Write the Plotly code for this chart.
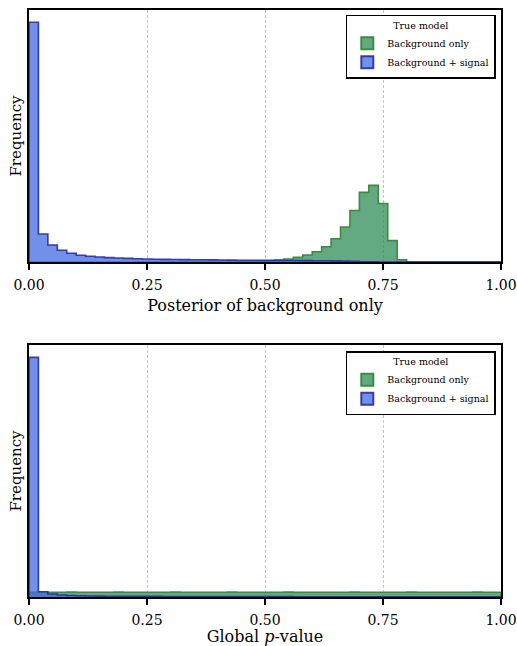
import numpy as np
import plotly.graph_objects as go

# ---------------- data ----------------
BIN_WIDTH = 0.02
bin_edges = np.round(np.arange(0, 1.0 + BIN_WIDTH / 2, BIN_WIDTH), 4)  # 51 edges, 50 bins

# Panel 1: posterior of background only (frequency, arbitrary units)
post_bg_only = [0, 0, 0, 0, 0, 0, 0, 0, 0, 0,
                0, 0, 0, 0, 0, 0, 0, 0, 0, 0,
                0, 0, 0.3, 0.5, 0.8, 1.2, 2.0, 3.0, 4.6, 7.0,
                10.2, 15.2, 23.2, 35.0, 51.5, 69.5, 76.5, 58.5, 21.3, 2.3,
                0, 0, 0, 0, 0, 0, 0, 0, 0, 0]
post_bg_signal = [239.5, 28.0, 17.0, 11.8, 8.8, 6.8, 5.8, 5.0, 4.4, 4.0,
                  3.6, 3.3, 3.0, 2.8, 2.6, 2.5, 2.4, 2.3, 2.2, 2.1,
                  2.0, 1.9, 1.8, 1.8, 1.7, 1.6, 1.6, 1.5, 1.5, 1.4,
                  1.3, 1.2, 1.1, 0.9, 0.6, 0.3, 0.1, 0, 0, 0,
                  0, 0, 0, 0, 0, 0, 0, 0, 0, 0]

# Panel 2: global p-value
pval_bg_only = [4.8, 4.8, 4.7, 4.8, 4.9, 4.8, 4.7, 4.8, 4.8, 4.9,
                4.8, 4.7, 4.8, 4.8, 4.8, 4.9, 4.8, 4.7, 4.8, 4.8,
                4.8, 4.9, 4.8, 4.8, 4.7, 4.8, 4.8, 4.9, 4.8, 4.8,
                4.7, 4.8, 4.8, 4.8, 4.9, 4.8, 4.8, 4.7, 4.8, 4.8,
                4.9, 4.8, 4.8, 4.8, 4.7, 4.8, 4.8, 4.9, 4.8, 4.8]
pval_bg_signal = [239.3, 5.2, 3.0, 2.0, 1.5, 1.2, 1.0, 0.9, 0.8, 0.7,
                  0.7, 0.6, 0.6, 0.6, 0.5, 0.5, 0.5, 0.5, 0.5, 0.4,
                  0.4, 0.4, 0.4, 0.4, 0.4, 0.4, 0.4, 0.4, 0.3, 0.3,
                  0.3, 0.3, 0.3, 0.3, 0.3, 0.3, 0.3, 0.3, 0.3, 0.3,
                  0.3, 0.3, 0.3, 0.3, 0.3, 0.3, 0.3, 0.3, 0.3, 0.3]

x_ticks = [0.0, 0.25, 0.5, 0.75, 1.0]
x_tick_labels = ["0.00", "0.25", "0.50", "0.75", "1.00"]
legend_title = "True model"
series_names = ["Background only", "Background + signal"]
x_titles = ["Posterior of background only", "Global <i>p</i>-value"]
y_title = "Frequency"

# ---------------- style ----------------
FONT = "DejaVu Serif"
GREEN_FILL = "rgba(46,139,87,0.74)"
GREEN_LINE = "rgb(58,140,62)"
BLUE_FILL = "rgba(65,105,225,0.74)"
BLUE_LINE = "rgba(35,45,165,0.9)"
Y_MAX = 251.7


def step_xy(counts):
    xs = [bin_edges[0]] + list(bin_edges[:-1]) + [bin_edges[-1]]
    ys = [0] + list(counts) + [0]
    return xs, ys


fig = go.Figure()

panels = [
    (post_bg_only, post_bg_signal, "x", "y", "legend"),
    (pval_bg_only, pval_bg_signal, "x2", "y2", "legend2"),
]

for (bg, sig, xa, ya, lg) in panels:
    for counts, fill, line in [(bg, GREEN_FILL, GREEN_LINE), (sig, BLUE_FILL, BLUE_LINE)]:
        xs, ys = step_xy(counts)
        fig.add_trace(go.Scatter(
            x=xs, y=ys, mode="lines", line=dict(shape="hv", color=line, width=1.6),
            fill="tozeroy", fillcolor=fill, xaxis=xa, yaxis=ya,
            showlegend=False, hoverinfo="skip"))
    # legend entries (patch style)
    for name, fill, line in [(series_names[0], GREEN_FILL, GREEN_LINE),
                             (series_names[1], BLUE_FILL, BLUE_LINE)]:
        fig.add_trace(go.Bar(
            x=[None], y=[None], name=name, marker=dict(color=fill, line=dict(color=line, width=1.6)),
            xaxis=xa, yaxis=ya, legend=lg, showlegend=True))

axis_common = dict(
    range=[0, 1], tickmode="array", tickvals=x_ticks, ticktext=x_tick_labels,
    ticks="outside", ticklen=6, tickwidth=1.8, tickcolor="black", ticklabelstandoff=3,
    showline=True, linecolor="black", linewidth=2, mirror=True,
    showgrid=True, gridcolor="#c4c4c4", griddash="3px,2px", gridwidth=1,
    zeroline=False, tickfont=dict(family=FONT, size=14, color="black"),
    automargin=False,
)
yaxis_common = dict(
    range=[0, Y_MAX], showticklabels=False, ticks="", showgrid=False, zeroline=False,
    showline=True, linecolor="black", linewidth=2, mirror=True, automargin=False,
    title=dict(text=y_title, font=dict(family=FONT, size=15, color="black"), standoff=2),
)

legend_common = dict(
    xanchor="right", yanchor="top", bgcolor="white", bordercolor="black", borderwidth=1.5,
    font=dict(family=FONT, size=9.5, color="black"),
    title=dict(text=legend_title, side="top center", font=dict(family=FONT, size=9.5, color="black")),
    itemsizing="constant", tracegroupgap=0,
)

fig.update_layout(
    width=517, height=646,
    margin=dict(l=29, r=16, t=10, b=49),
    paper_bgcolor="white", plot_bgcolor="white",
    barmode="overlay",
    showlegend=True,
    xaxis=dict(**axis_common, domain=[0, 1], anchor="y",
               title=dict(text=x_titles[0], font=dict(family=FONT, size=16, color="black"), standoff=8)),
    yaxis=dict(**yaxis_common, domain=[0.5707, 1], anchor="x"),
    xaxis2=dict(**axis_common, domain=[0, 1], anchor="y2",
                title=dict(text=x_titles[1], font=dict(family=FONT, size=16, color="black"), standoff=8)),
    yaxis2=dict(**yaxis_common, domain=[0, 0.4293], anchor="x2"),
    legend=dict(**legend_common, x=0.989, y=0.9915),
    legend2=dict(**legend_common, x=0.989, y=0.4186),
)

# remove the page's default body margin so the 517x646 figure fills the window exactly
fig.write_html("out.html",
               config={"displayModeBar": False},
               post_script="document.body.style.margin='0px';document.body.style.overflow='hidden';")
